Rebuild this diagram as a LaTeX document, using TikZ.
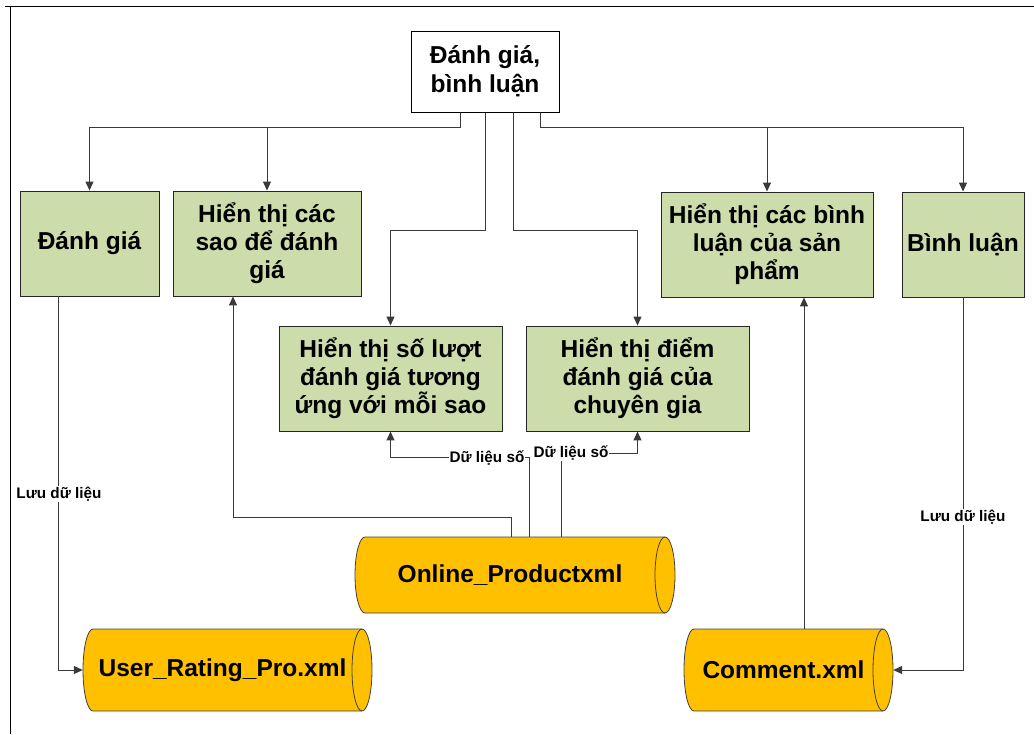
\documentclass[tikz,border=0pt]{standalone}
\usepackage{fontspec}
\setmainfont{Liberation Sans}
\usetikzlibrary{arrows.meta,calc}
\definecolor{boxgreen}{HTML}{CCDCAB}
\definecolor{storeamber}{HTML}{FFC000}
\definecolor{wire}{HTML}{3A3A3A}

% horizontal data store: #1 left, #2 right, #3 top, #4 bottom, #5 half height
\newcommand\drumshape[5]{%
  \filldraw[store] ({#1+10},#3) -- ({#2-10},#3)
    arc[start angle=90,end angle=-90,x radius=10pt,y radius=#5pt]
    -- ({#1+10},#4)
    arc[start angle=270,end angle=90,x radius=10pt,y radius=#5pt] -- cycle;
  \draw[storeline] ({#2-10},#3)
    arc[start angle=90,end angle=270,x radius=10pt,y radius=#5pt];
}

\begin{document}
\begin{tikzpicture}[x=1pt,y=-1pt,
  bigtext/.style={font=\fontsize{24.5}{28}\selectfont\bfseries},
  title/.style={draw=black, fill=white, line width=1pt, align=center, inner sep=0pt,
    font=\fontsize{24.5}{29}\selectfont\bfseries},
  panel/.style={draw=black!85, fill=boxgreen, line width=0.9pt, align=center, inner sep=0pt, bigtext},
  storebox/.style={draw=none, inner sep=0pt},
  store/.style={fill=storeamber, draw=black!75, line width=0.8pt},
  storeline/.style={draw=black!75, line width=0.8pt},
  conn/.style={draw=wire, line width=1pt, -{Triangle[length=9pt,width=8pt]}},
  lbl/.style={fill=white, inner sep=1pt, font=\fontsize{15.3}{18}\selectfont\bfseries},
  frame/.style={draw=black, line width=1pt}
]
\useasboundingbox (0,0) rectangle (1034,734);

% page frame
\draw[frame] (5,6.5) -- (1034,6.5);
\draw[frame] (10.5,6.5) -- (10.5,734);

% root
\node[title, minimum width=148pt, minimum height=81pt] (top) at (485,71.5) {Đánh giá,\\bình luận};

% functions
\node[panel, minimum width=139pt, minimum height=105pt] (r1) at (89.5,243.5) {Đánh giá};
\node[panel, minimum width=188pt, minimum height=105pt] (r2) at (267,243.5) {Hiển thị các\\sao để đánh\\giá};
\node[panel, minimum width=223pt, minimum height=105pt] (r3) at (390.5,378.5) {Hiển thị số lượt\\đánh giá tương\\ứng với mỗi sao};
\node[panel, minimum width=223pt, minimum height=105pt] (r4) at (637.5,378.5) {Hiển thị điểm\\đánh giá của\\chuyên gia};
\node[panel, minimum width=212pt, minimum height=105pt] (r5) at (767,244.5) {Hiển thị các bình\\luận của sản\\phẩm};
\node[panel, minimum width=122pt, minimum height=105pt] (r6) at (963,244.5) {Bình luận};

% data stores
\drumshape{355}{675}{537}{613}{38}
\node[storebox, minimum width=320pt, minimum height=76pt] (online) at (515,575) {};
\node[bigtext] (onlinetxt) at ([xshift=-5pt]online.center) {Online\_Productxml};

\drumshape{83}{372}{629}{711}{41}
\node[storebox, minimum width=289pt, minimum height=82pt] (user) at (227.5,670) {};
\node[bigtext] (usertxt) at ([xshift=-5pt]user.center) {User\_Rating\_Pro.xml};

\drumshape{684}{893}{629}{711}{41}
\node[storebox, minimum width=209pt, minimum height=82pt] (comment) at (788.5,670) {};
\node[bigtext] (commenttxt) at ([xshift=-5pt]comment.center) {Comment.xml};

% root to functions
\draw[conn] ([xshift=-25pt]top.south) -- ++(0,15) -| (r1.north);
\draw[conn] ([xshift=-25pt]top.south) -- ++(0,15) -| (r2.north);
\draw[conn] ([xshift=55pt]top.south) -- ++(0,15) -| (r5.north);
\draw[conn] ([xshift=55pt]top.south) -- ++(0,15) -| (r6.north);
\draw[conn] (top.south) -- ++(0,118) -| (r3.north);
\draw[conn] ([xshift=28pt]top.south) -- ++(0,118) -| (r4.north);

% data flows
\draw[conn] ([xshift=-4pt]online.north) -- ++(0,-19) -| ([xshift=-34pt]r2.south);
\draw[conn] ([xshift=14pt]online.north) -- ++(0,-79) -| (r3.south);
\draw[conn] ([xshift=46pt]online.north) -- ++(0,-83) -| (r4.south);
\draw[conn] ([xshift=15.5pt]comment.north) -- ([xshift=37pt]r5.south);
\draw[conn] (r6.south) |- (comment.east);
\draw[conn] ([xshift=-31pt]r1.south) |- (user.west);

% flow labels
\node[lbl] (d1) at (487,458) {Dữ liệu số};
\node[lbl] (d2) at (571,453) {Dữ liệu số};
\node[lbl] (s1) at (59,494) {Lưu dữ liệu};
\node[lbl] (s2) at (963,517) {Lưu dữ liệu};
\end{tikzpicture}
\end{document}
